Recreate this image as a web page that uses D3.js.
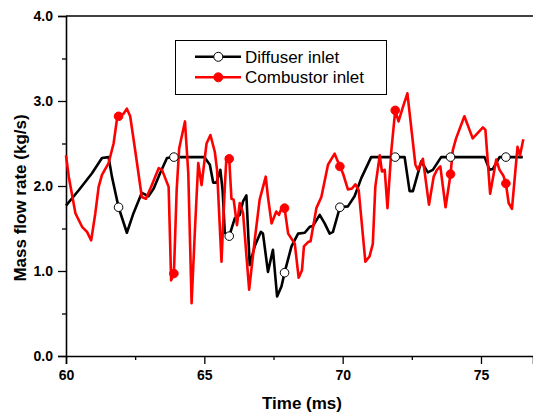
<!DOCTYPE html>
<html>
<head>
<meta charset="utf-8">
<script src="https://cdn.jsdelivr.net/npm/d3@7"></script>
<style>
  html, body { margin: 0; padding: 0; background: #fff; }
  svg { display: block; font-family: Arial, "Liberation Sans", sans-serif; }
  .tick-label { font-size: 14px; font-weight: bold; }
  .axis-title { font-size: 17px; font-weight: bold; }
  .legend-text { font-size: 17px; }
</style>
</head>
<body>
<svg id="chart" width="533" height="414"></svg>
<script>
// Diffuser inlet (black, open markers)
const diffuserTime = [60.0, 60.46, 60.94, 61.3, 61.54, 61.66, 61.9, 62.2, 62.44, 62.74, 62.98, 63.17, 63.4, 63.65, 63.9,
  65.0, 65.2, 65.32, 65.44, 65.58, 65.66, 65.74, 65.9, 66.1, 66.28, 66.4, 66.52, 66.64, 66.82, 67.04, 67.12, 67.3,
  67.48, 67.63, 67.79, 67.9, 68.15, 68.39, 68.63, 68.81, 68.93, 69.17, 69.35, 69.53, 69.65, 69.9, 70.19, 70.43,
  70.67, 71.03, 71.9, 72.24, 72.42, 72.54, 72.84, 73.08, 73.26, 73.56, 73.9, 75.13, 75.31, 75.43, 75.67, 75.9, 76.51];
const diffuserRate = [1.77, 1.95, 2.15, 2.33, 2.34, 2.11, 1.75, 1.45, 1.68, 1.92, 1.88, 1.97, 2.15, 2.33, 2.34,
  2.34, 2.25, 2.04, 2.04, 2.19, 1.95, 1.45, 1.41, 1.62, 1.66, 1.82, 1.89, 1.07, 1.29, 1.46, 1.44, 0.99,
  1.25, 0.70, 0.82, 0.98, 1.29, 1.44, 1.45, 1.52, 1.53, 1.66, 1.56, 1.44, 1.46, 1.75, 1.76, 1.88,
  2.09, 2.34, 2.34, 2.34, 1.94, 1.94, 2.29, 2.16, 2.19, 2.34, 2.34, 2.34, 2.19, 2.20, 2.34, 2.34, 2.34];

// Combustor inlet (red, filled markers)
const combustorTime = [60.0, 60.1, 60.34, 60.58, 60.76, 60.91, 61.06, 61.18, 61.3, 61.54, 61.72, 61.84, 61.9, 62.08,
  62.2, 62.32, 62.5, 62.74, 62.89, 63.1, 63.35, 63.47, 63.71, 63.8, 63.9, 64.0, 64.09, 64.3, 64.42, 64.54, 64.66,
  64.78, 64.9, 65.08, 65.22, 65.38, 65.46, 65.62, 65.74, 65.8, 65.9, 65.98, 66.06, 66.18, 66.28, 66.4, 66.62,
  66.82, 67.0, 67.22, 67.3, 67.43, 67.6, 67.7, 67.79, 67.9, 68.03, 68.27, 68.41, 68.53, 68.6, 68.75, 68.84,
  69.05, 69.23, 69.47, 69.71, 69.9, 70.01, 70.19, 70.34, 70.46, 70.58, 70.82, 70.97, 71.09, 71.18, 71.34,
  71.42, 71.52, 71.62, 71.76, 71.9, 72.02, 72.18, 72.34, 72.63, 72.72, 72.9, 73.12, 73.29, 73.41, 73.53,
  73.72, 73.9, 73.98, 74.1, 74.4, 74.7, 75.07, 75.16, 75.33, 75.55, 75.67, 75.81, 75.9, 76.0, 76.12, 76.32,
  76.41, 76.53];
const combustorRate = [2.36, 2.11, 1.68, 1.52, 1.46, 1.36, 1.68, 1.99, 2.13, 2.27, 2.50, 2.78, 2.82, 2.85,
  2.91, 2.82, 2.42, 1.87, 1.85, 2.01, 2.21, 2.19, 1.99, 0.89, 0.97, 1.95, 2.44, 2.76, 2.15, 0.62, 1.48,
  2.27, 2.01, 2.50, 2.60, 2.40, 2.19, 1.11, 1.99, 2.34, 2.32, 1.85, 1.84, 1.54, 1.80, 1.68, 0.78,
  1.36, 1.84, 2.11, 1.87, 1.56, 1.70, 1.66, 1.74, 1.74, 1.44, 1.32, 0.92, 1.01, 1.29, 1.34, 1.35,
  1.74, 1.87, 2.25, 2.38, 2.23, 2.15, 1.96, 1.97, 2.02, 1.95, 1.11, 1.17, 1.32, 1.99, 2.36,
  2.17, 2.19, 1.74, 2.42, 2.89, 2.76, 2.93, 3.09, 2.25, 2.19, 2.32, 1.78, 2.11, 2.19, 2.23,
  1.75, 2.14, 2.42, 2.56, 2.82, 2.56, 2.69, 2.66, 1.91, 2.31, 2.19, 2.12, 2.03, 1.80, 1.73, 2.46,
  2.36, 2.55];

// times where symbols are drawn on both curves
const markerTimes = [61.9, 63.9, 65.9, 67.9, 69.9, 71.9, 73.9, 75.9];

const xTicks = [60, 65, 70, 75];
const xMinorTicks = [62.5, 67.5, 72.5];
const yTicks = [0, 1, 2, 3, 4];
const yMinorTicks = [0.5, 1.5, 2.5, 3.5];

const seriesNames = ["Diffuser inlet", "Combustor inlet"];

const svg = d3.select("#chart");

const x = d3.scaleLinear().domain([60, 76.88]).range([66, 533]);
const y = d3.scaleLinear().domain([0, 4]).range([356, 16]);

const series = [
  { name: seriesNames[0], color: "#000", fill: "#fff",
    data: diffuserTime.map((t, i) => ({ t: t, v: diffuserRate[i] })) },
  { name: seriesNames[1], color: "#ff0000", fill: "#ff0000",
    data: combustorTime.map((t, i) => ({ t: t, v: combustorRate[i] })) }
];

// X axis
const xAxis = svg.append("g")
  .attr("transform", `translate(0,${y(0)})`)
  .call(d3.axisBottom(x).tickValues(xTicks).tickSize(8).tickPadding(6).tickFormat(d3.format("d")));
xAxis.select(".domain").attr("stroke-width", 1.6);
xAxis.selectAll(".tick line").attr("stroke-width", 1.3);
xAxis.selectAll("text").attr("class", "tick-label").attr("fill", "#000");

svg.append("g")
  .attr("transform", `translate(0,${y(0)})`)
  .call(d3.axisBottom(x).tickValues(xMinorTicks).tickSize(4).tickFormat(""))
  .call(g => g.select(".domain").remove())
  .selectAll(".tick line").attr("stroke-width", 1.3);

// Y axis
const yAxis = svg.append("g")
  .attr("transform", `translate(${x(60)},0)`)
  .call(d3.axisLeft(y).tickValues(yTicks).tickSize(8).tickPadding(5).tickFormat(d3.format(".1f")));
yAxis.select(".domain").attr("stroke-width", 1.6);
yAxis.selectAll(".tick line").attr("stroke-width", 1.3);
yAxis.selectAll("text").attr("class", "tick-label").attr("fill", "#000");

svg.append("g")
  .attr("transform", `translate(${x(60)},0)`)
  .call(d3.axisLeft(y).tickValues(yMinorTicks).tickSize(4).tickFormat(""))
  .call(g => g.select(".domain").remove())
  .selectAll(".tick line").attr("stroke-width", 1.3);

// top frame
svg.append("line")
  .attr("x1", x(60)).attr("x2", 533)
  .attr("y1", y(4)).attr("y2", y(4))
  .attr("stroke", "#000").attr("stroke-width", 1.3);

// Axis titles
svg.append("text")
  .attr("class", "axis-title")
  .attr("x", 302).attr("y", 409)
  .attr("text-anchor", "middle")
  .text("Time (ms)");

svg.append("text")
  .attr("class", "axis-title")
  .attr("transform", "translate(26,198) rotate(-90)")
  .attr("text-anchor", "middle")
  .text("Mass flow rate (kg/s)");

// Lines
const line = d3.line().x(d => x(d.t)).y(d => y(d.v));

series.forEach(s => {
  svg.append("path")
    .datum(s.data)
    .attr("fill", "none")
    .attr("stroke", s.color)
    .attr("stroke-width", 2.6)
    .attr("stroke-linejoin", "round")
    .attr("d", line);
});

series.forEach(s => {
  svg.selectAll(null)
    .data(s.data.filter(d => markerTimes.includes(d.t)))
    .enter()
    .append("circle")
    .attr("cx", d => x(d.t))
    .attr("cy", d => y(d.v))
    .attr("r", 4.3)
    .attr("fill", s.fill)
    .attr("stroke", s.color)
    .attr("stroke-width", 1);
});

// Legend
const legend = svg.append("g");
legend.append("rect")
  .attr("x", 175.5).attr("y", 40.5)
  .attr("width", 211).attr("height", 54)
  .attr("fill", "#fff").attr("stroke", "#000").attr("stroke-width", 1);

series.forEach((s, i) => {
  const ly = 56.8 + i * 20.5;
  legend.append("line")
    .attr("x1", 195).attr("x2", 241)
    .attr("y1", ly).attr("y2", ly)
    .attr("stroke", s.color).attr("stroke-width", 2.6);
  legend.append("circle")
    .attr("cx", 218.3).attr("cy", ly).attr("r", 4.5)
    .attr("fill", s.fill).attr("stroke", s.color).attr("stroke-width", 1);
  legend.append("text")
    .attr("class", "legend-text")
    .attr("x", 245).attr("y", ly + 5.8)
    .text(s.name);
});
</script>
</body>
</html>
